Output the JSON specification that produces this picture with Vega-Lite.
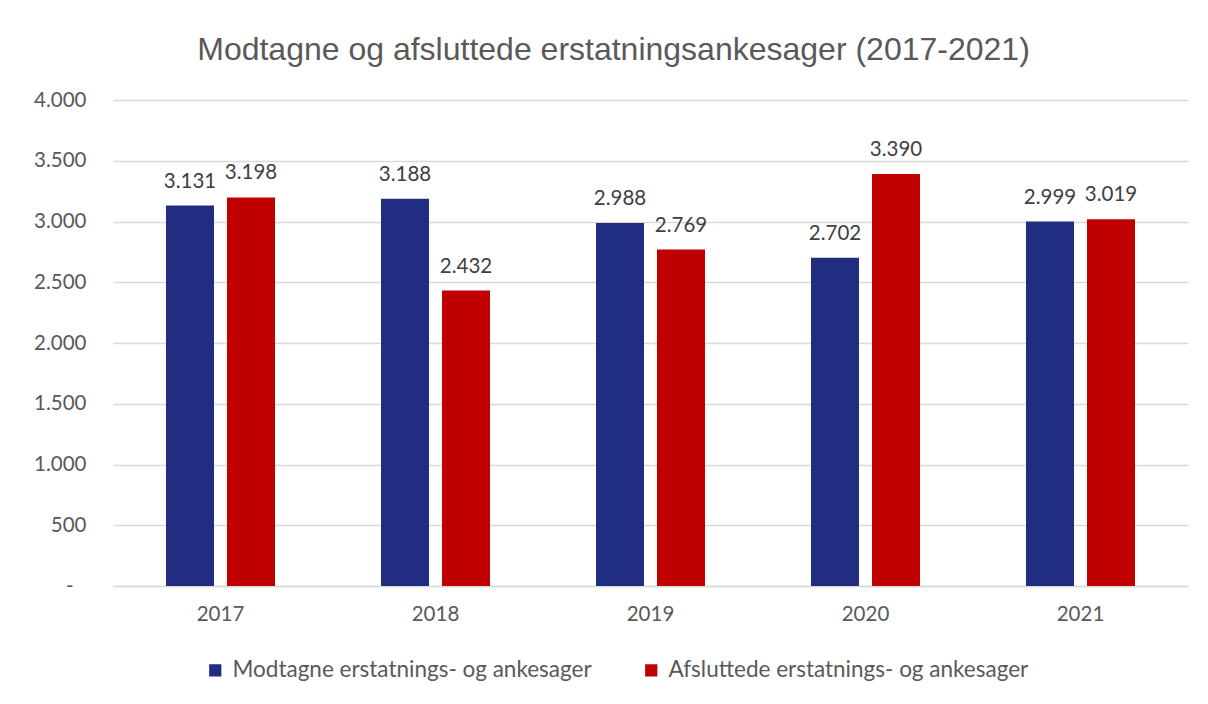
{
  "$schema": "https://vega.github.io/schema/vega-lite/v6.json",
  "width": 1075,
  "height": 486,
  "autosize": {"type": "none"},
  "padding": {"left": 113, "top": 100, "right": 20, "bottom": 118},
  "background": "white",
  "title": {
    "text": "Modtagne og afsluttede erstatningsankesager (2017-2021)",
    "font": "Liberation Sans",
    "fontSize": 32,
    "fontWeight": "normal",
    "color": "#595959",
    "anchor": "middle",
    "baseline": "middle",
    "dx": -37,
    "offset": 8
  },
  "config": {
    "locale": {"number": {"decimal": ",", "thousands": ".", "grouping": [3], "currency": ["", " kr."]}},
    "view": {"stroke": null}
  },
  "data": {
    "values": [
      {"year": "2017", "series": "Modtagne erstatnings- og ankesager", "value": 3131},
      {"year": "2017", "series": "Afsluttede erstatnings- og ankesager", "value": 3198},
      {"year": "2018", "series": "Modtagne erstatnings- og ankesager", "value": 3188},
      {"year": "2018", "series": "Afsluttede erstatnings- og ankesager", "value": 2432},
      {"year": "2019", "series": "Modtagne erstatnings- og ankesager", "value": 2988},
      {"year": "2019", "series": "Afsluttede erstatnings- og ankesager", "value": 2769},
      {"year": "2020", "series": "Modtagne erstatnings- og ankesager", "value": 2702},
      {"year": "2020", "series": "Afsluttede erstatnings- og ankesager", "value": 3390},
      {"year": "2021", "series": "Modtagne erstatnings- og ankesager", "value": 2999},
      {"year": "2021", "series": "Afsluttede erstatnings- og ankesager", "value": 3019}
    ]
  },
  "encoding": {
    "x": {
      "field": "year",
      "type": "nominal",
      "scale": {"paddingInner": 0.493, "paddingOuter": 0.2465},
      "axis": {
        "title": null,
        "labelAngle": 0,
        "labelFont": "Lato",
        "labelFontSize": 20.5,
        "labelColor": "#595959",
        "labelPadding": 18,
        "ticks": false,
        "domainColor": "#d9d9d9",
        "domainWidth": 1.3,
        "grid": false
      }
    },
    "xOffset": {
      "field": "series",
      "type": "nominal",
      "sort": ["Modtagne erstatnings- og ankesager", "Afsluttede erstatnings- og ankesager"],
      "scale": {"paddingInner": 0.213, "paddingOuter": 0}
    },
    "y": {
      "field": "value",
      "type": "quantitative",
      "scale": {"domain": [0, 4000]},
      "axis": {
        "title": null,
        "values": [0, 500, 1000, 1500, 2000, 2500, 3000, 3500, 4000],
        "labelExpr": "datum.value == 0 ? '-' : format(datum.value, ',')",
        "labelFont": "Lato",
        "labelFontSize": 20.5,
        "labelColor": "#595959",
        "labelPadding": {"condition": {"test": "datum.value == 0", "value": 40}, "value": 27},
        "ticks": false,
        "domain": false,
        "grid": true,
        "gridColor": "#d9d9d9",
        "gridWidth": 1.3
      }
    }
  },
  "layer": [
    {
      "mark": {"type": "bar"},
      "encoding": {
        "color": {
          "field": "series",
          "type": "nominal",
          "sort": ["Modtagne erstatnings- og ankesager", "Afsluttede erstatnings- og ankesager"],
          "scale": {
            "domain": ["Modtagne erstatnings- og ankesager", "Afsluttede erstatnings- og ankesager"],
            "range": ["#202D80", "#C00000"]
          },
          "legend": {
            "title": null,
            "orient": "none",
            "direction": "horizontal",
            "legendX": 91,
            "legendY": 559,
            "symbolType": "square",
            "symbolSize": 150,
            "symbolStrokeWidth": 0,
            "labelFont": "Lato",
            "labelFontSize": 22.5,
            "labelColor": "#595959",
            "labelOffset": 6,
            "columnPadding": 48,
            "labelLimit": 500
          }
        }
      }
    },
    {
      "mark": {"type": "text", "baseline": "alphabetic", "dy": -18, "font": "Lato", "fontSize": 20.5, "color": "#404040"},
      "encoding": {
        "text": {"field": "value", "type": "quantitative", "format": ","}
      }
    }
  ]
}
